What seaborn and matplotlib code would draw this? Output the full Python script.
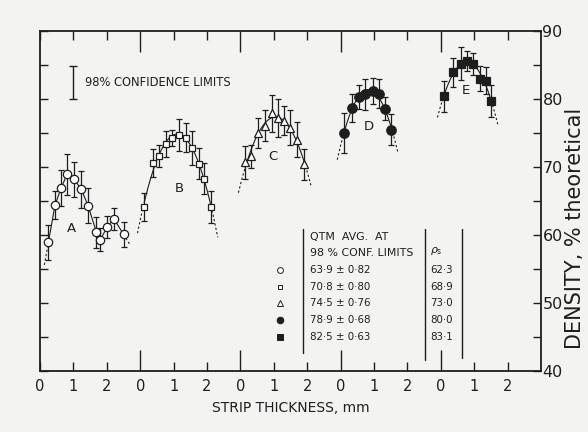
import numpy as np
import pandas as pd
import matplotlib
matplotlib.use("Agg")
import matplotlib.pyplot as plt
import seaborn as sns

# ---------------- data ----------------
groups = ["A", "B", "C", "D", "E"]
group_offset = [0, 3, 6, 9, 12]          # each panel starts at its own 0 mm

A_x = [0.25, 0.45, 0.63, 0.81, 1.02, 1.24, 1.44, 1.69, 1.80, 2.02, 2.21, 2.50]
A_y = [58.9, 64.4, 66.9, 68.9, 68.2, 66.7, 64.3, 60.4, 59.3, 61.2, 62.4, 60.1]
A_e = [2.6, 2.0, 2.6, 3.0, 2.6, 2.7, 2.6, 2.3, 1.7, 1.6, 1.6, 1.8]

B_x = [0.12, 0.37, 0.57, 0.77, 0.94, 1.16, 1.37, 1.54, 1.76, 1.92, 2.12]
B_y = [64.1, 70.6, 71.6, 73.4, 74.3, 74.7, 74.3, 72.8, 70.5, 68.3, 64.1]
B_e = [2.1, 2.0, 1.6, 1.9, 1.2, 2.4, 2.1, 2.45, 2.25, 2.3, 2.3]

C_x = [0.14, 0.33, 0.54, 0.74, 0.96, 1.14, 1.30, 1.49, 1.69, 1.91]
C_y = [70.7, 71.6, 75.0, 76.1, 77.9, 77.2, 76.8, 75.8, 74.0, 70.4]
C_e = [2.4, 1.7, 2.25, 2.3, 2.75, 2.8, 2.1, 2.6, 2.6, 2.3]

D_x = [0.10, 0.33, 0.55, 0.73, 0.96, 1.15, 1.32, 1.52]
D_y = [75.0, 78.7, 80.3, 80.7, 81.2, 80.8, 78.6, 75.5]
D_e = [2.9, 2.1, 1.7, 2.25, 1.9, 2.1, 1.7, 2.3]

E_x = [0.10, 0.36, 0.60, 0.78, 0.97, 1.17, 1.34, 1.51]
E_y = [80.4, 83.9, 85.2, 85.6, 85.1, 83.0, 82.7, 79.7]
E_e = [2.3, 2.2, 2.45, 1.5, 1.6, 1.8, 2.0, 2.3]

qtm_avg = ["63·9", "70·8", "74·5", "78·9", "82·5"]
qtm_lim = ["0·82", "0·80", "0·76", "0·68", "0·63"]
rho_s = ["62·3", "68·9", "73·0", "80·0", "83·1"]

tick_labels = ["0", "1", "2"]
y_labels = ["40", "50", "60", "70", "80", "90"]

xs = [A_x, B_x, C_x, D_x, E_x]
ys = [A_y, B_y, C_y, D_y, E_y]
es = [A_e, B_e, C_e, D_e, E_e]

rows = []
for g, off, x, y, e in zip(groups, group_offset, xs, ys, es):
    for xi, yi, ei in zip(x, y, e):
        rows.append({"group": g, "t": xi, "pos": xi + off, "density": yi, "err": ei})
df = pd.DataFrame(rows)

# ---------------- style ----------------
sns.set_theme(style="ticks")
plt.rcParams["font.family"] = ["DejaVu Sans"]
ink = "#1e1e1e"
bg = "#f3f3f1"

fig = plt.figure(figsize=(5.88, 4.32), dpi=100)
fig.patch.set_facecolor(bg)
ax = fig.add_axes([40 / 588, 1 - 371 / 432, 501 / 588, 340 / 432])
ax.set_facecolor(bg)

marker_style = {
    "A": dict(marker="o", mfc="white", ms=6.0),
    "B": dict(marker="s", mfc="white", ms=5.0),
    "C": dict(marker="^", mfc="white", ms=5.5),
    "D": dict(marker="o", mfc=ink, ms=6.8),
    "E": dict(marker="s", mfc=ink, ms=6.0),
}

for g in groups:
    sub = df[df.group == g]
    px = sub.pos.to_numpy()
    py = sub.density.to_numpy()
    # curve
    if g == "A":
        sns.lineplot(x=px, y=py, ax=ax, color=ink, lw=0.8, sort=False, estimator=None)
        s0 = (py[1] - py[0]) / (px[1] - px[0])
        s1 = (py[-1] - py[-2]) / (px[-1] - px[-2])
        ax.plot([px[0] - 0.12, px[0]], [py[0] - 0.12 * s0, py[0]], ls=(0, (2, 2)), color=ink, lw=0.8)
        ax.plot([px[-1], px[-1] + 0.2], [py[-1], py[-1] + 0.2 * s1], ls=(0, (2, 2)), color=ink, lw=0.8)
    else:
        coef = np.polyfit(px, py, 2)
        xx = np.linspace(px[0], px[-1], 100)
        sns.lineplot(x=xx, y=np.polyval(coef, xx), ax=ax, color=ink, lw=0.8, estimator=None)
        for a, b in [(px[0] - 0.2, px[0]), (px[-1], px[-1] + 0.2)]:
            xd = np.linspace(a, b, 20)
            ax.plot(xd, np.polyval(coef, xd), ls=(0, (2, 2)), color=ink, lw=0.8)
    ax.errorbar(px, py, yerr=sub.err.to_numpy(), fmt="none", ecolor=ink,
                elinewidth=0.9, capsize=2.5, capthick=0.9, zorder=3)
    ms = marker_style[g]
    ax.plot(px, py, ls="none", marker=ms["marker"], mfc=ms["mfc"], mec=ink,
            mew=0.9, ms=ms["ms"], zorder=4)

# panel letters
letter_pos = [(0.95, 61.0), (4.16, 66.8), (6.97, 71.5), (9.85, 75.9), (12.75, 81.3)]
for g, (lx, ly) in zip(groups, letter_pos):
    ax.text(lx, ly, g, ha="center", va="center", fontsize=9.5, color=ink)

# confidence-limit key
ax.errorbar([1.0], [82.45], yerr=[2.45], fmt="none", ecolor=ink, elinewidth=1.0,
            capsize=3, capthick=1.0)
ax.text(1.35, 82.45, "98% CONFIDENCE LIMITS", ha="left", va="center",
        fontsize=8.3, color=ink)

# table
ax.plot([7.87, 7.87], [42.6, 60.9], color=ink, lw=1.0)
ax.plot([11.54, 11.54], [41.6, 60.9], color=ink, lw=1.0)
ax.plot([12.63, 12.63], [41.9, 60.9], color=ink, lw=1.0)
ax.text(8.08, 59.7, "QTM  AVG.  AT", ha="left", va="center", fontsize=7.9, color=ink)
ax.text(8.08, 57.4, "98 % CONF. LIMITS", ha="left", va="center", fontsize=7.9, color=ink)
ax.text(11.85, 57.6, r"$\rho_{\rm s}$", ha="center", va="center", fontsize=7.8, color=ink)
row_y = [54.85, 52.4, 49.95, 47.5, 45.0]
for g, ry, avg, lim, rs in zip(groups, row_y, qtm_avg, qtm_lim, rho_s):
    ms = marker_style[g]
    ax.plot([7.2], [ry], ls="none", marker=ms["marker"], mfc=ms["mfc"], mec=ink,
            mew=0.7, ms=ms["ms"] * 0.7)
    ax.text(8.08, ry, f"{avg} ± {lim}", ha="left", va="center", fontsize=7.4, color=ink)
    ax.text(11.68, ry, rs, ha="left", va="center", fontsize=7.4, color=ink)

# axes
ax.set_xlim(0, 15)
ax.set_ylim(40, 90)
major_x = [3, 6, 9, 12]
minor_x = [x for x in range(0, 15) if x not in major_x]
ax.set_xticks(major_x, labels=[tick_labels[0]] * 4)
ax.set_xticks(minor_x, labels=[tick_labels[x % 3] for x in minor_x], minor=True)
ax.set_yticks([40, 50, 60, 70, 80, 90], labels=y_labels)
ax.set_yticks([45, 55, 65, 75, 85], minor=True)
ax.tick_params(axis="x", which="major", direction="in", length=15, width=1.0,
               top=True, bottom=True, labelsize=10.5, pad=6, colors=ink)
ax.tick_params(axis="x", which="minor", direction="in", length=6.5, width=1.0,
               top=True, bottom=True, labelsize=10.5, pad=6, colors=ink)
ax.tick_params(axis="y", which="both", direction="in", length=6, width=1.0,
               left=True, right=True, labelleft=False, labelright=True,
               labelsize=11.5, pad=1, colors=ink)
for s in ax.spines.values():
    s.set_color(ink)
    s.set_linewidth(1.3)
ax.set_xlabel("STRIP THICKNESS, mm", fontsize=10, color=ink, labelpad=5)
ax.set_ylabel("DENSITY, % theoretical", fontsize=15, color=ink, rotation=90)
ax.yaxis.set_label_coords(575 / 588, 1 - 228 / 432, transform=fig.transFigure)
ax.yaxis.label.set_va("center")
ax.yaxis.label.set_ha("center")

fig.savefig("out.png", dpi=100, facecolor=bg)
